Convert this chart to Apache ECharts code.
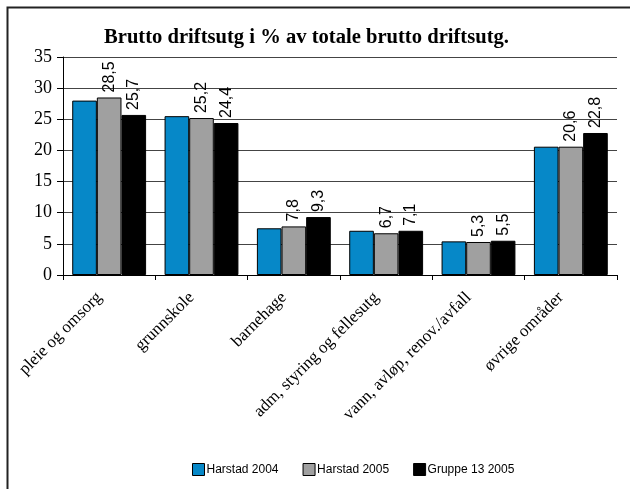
<!DOCTYPE html>
<html>
<head>
<meta charset="utf-8">
<script src="https://cdn.jsdelivr.net/npm/echarts@6/dist/echarts.min.js"></script>
<style>
  html, body { margin: 0; padding: 0; background: #fff; }
  #chart { width: 630px; height: 489px; }
</style>
</head>
<body>
<div id="chart"></div>
<script>
// kategorier og verdier lest av figuren
var categories = ['pleie og omsorg', 'grunnskole', 'barnehage', 'adm, styring og fellesutg', 'vann, avløp, renov./avfall', 'øvrige områder'];
var harstad2004 = [28.0, 25.5, 7.5, 7.1, 5.4, 20.6];
var harstad2005 = [28.5, 25.2, 7.8, 6.7, 5.3, 20.6];
var gruppe13 = [25.7, 24.4, 9.3, 7.1, 5.5, 22.8];
var seriesNames = ['Harstad 2004', 'Harstad 2005', 'Gruppe 13 2005'];
var yTicks = { min: 0, max: 35, step: 5 };

var chart = echarts.init(document.getElementById('chart'));

var valueLabel = {
  show: true,
  position: 'top',
  rotate: 90,
  align: 'left',
  verticalAlign: 'middle',
  distance: 5,
  color: '#000',
  fontFamily: 'Liberation Sans',
  fontSize: 16,
  formatter: function (p) {
    return String(p.value).replace('.', ',');
  }
};

function bar(name, data, color, withLabel) {
  return {
    name: name,
    type: 'bar',
    data: data,
    barGap: '0%',
    barCategoryGap: '20%',
    itemStyle: { color: color, borderColor: '#000', borderWidth: 1 },
    label: withLabel ? valueLabel : { show: false },
    emphasis: { disabled: true },
    animation: false
  };
}

var option = {
  backgroundColor: '#fff',
  title: {
    text: 'Brutto driftsutg i % av totale brutto driftsutg.',
    left: 99,
    top: 22,
    textStyle: {
      fontFamily: 'Liberation Serif',
      fontWeight: 'bold',
      fontSize: 20.6,
      color: '#000'
    }
  },
  legend: {
    data: seriesNames,
    top: 458,
    left: 187,
    itemWidth: 12,
    itemHeight: 12,
    itemGap: 24,
    icon: 'rect',
    itemStyle: { borderColor: '#000', borderWidth: 1 },
    textStyle: { fontFamily: 'Liberation Sans', fontSize: 12, color: '#000', padding: [0, 0, 0, -3] },
    selectedMode: false
  },
  grid: { left: 63, right: 13, top: 57, bottom: 214, containLabel: false },
  xAxis: {
    type: 'category',
    data: categories,
    axisLine: { lineStyle: { color: '#000', width: 1 } },
    axisTick: { show: true, length: 5, lineStyle: { color: '#000' } },
    axisLabel: {
      rotate: 45,
      interval: 0,
      margin: 10,
      padding: [0, 14, 0, 0],
      color: '#000',
      fontFamily: 'Liberation Serif',
      fontSize: 17
    }
  },
  yAxis: {
    type: 'value',
    min: yTicks.min,
    max: yTicks.max,
    interval: yTicks.step,
    axisLine: { show: true, lineStyle: { color: '#000', width: 1 } },
    axisTick: { show: true, length: 6, lineStyle: { color: '#000' } },
    axisLabel: {
      margin: 11,
      color: '#000',
      fontFamily: 'Liberation Serif',
      fontSize: 18
    },
    splitLine: { show: true, lineStyle: { color: '#444', width: 1 } }
  },
  graphic: [{
    type: 'rect',
    shape: { x: 7.5, y: 7.5, width: 700, height: 600 },
    style: { fill: 'none', stroke: '#222', lineWidth: 2 },
    silent: true
  }],
  series: [
    bar(seriesNames[0], harstad2004, '#0688C8', false),
    bar(seriesNames[1], harstad2005, '#A0A0A0', true),
    bar(seriesNames[2], gruppe13, '#000000', true)
  ]
};

chart.setOption(option);
</script>
</body>
</html>
